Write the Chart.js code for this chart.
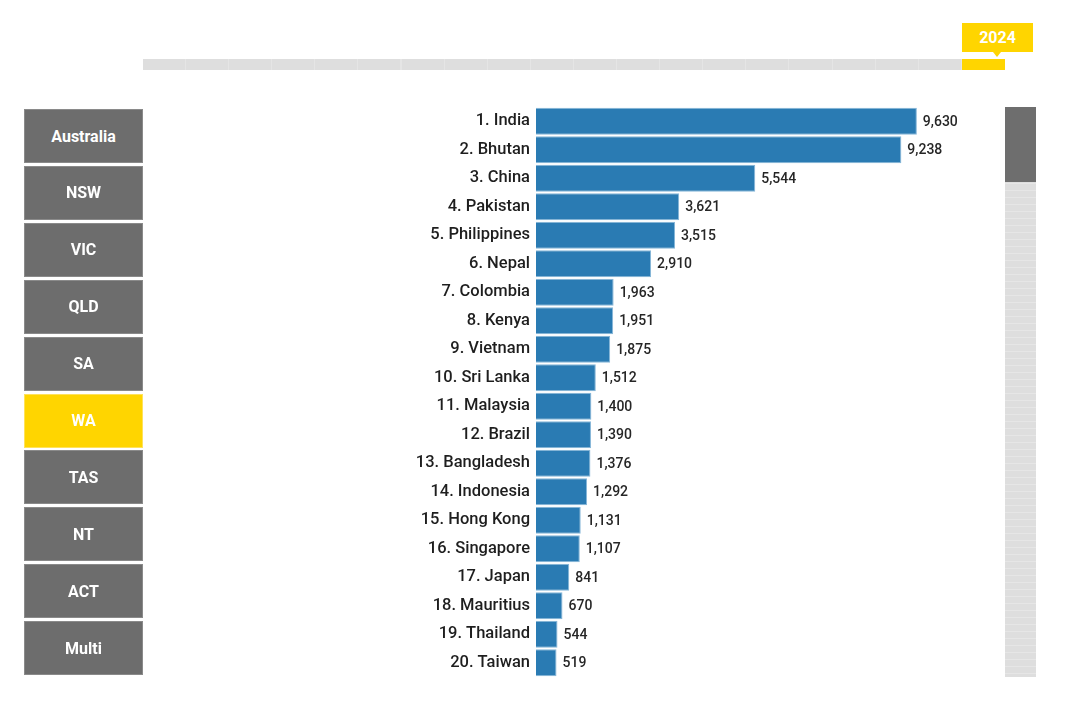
<!DOCTYPE html>
<html>
<head>
<meta charset="utf-8">
<script src="https://cdn.jsdelivr.net/npm/chart.js@4/dist/chart.umd.min.js"></script>
<style>
  html, body { margin: 0; padding: 0; background: #fff; width: 1080px; height: 724px; overflow: hidden; font-family: Roboto, "Noto Sans", sans-serif; }
  #wrap { position: relative; width: 1080px; height: 724px; }
  #chart { position: absolute; left: 0; top: 0; }
  .btn { position: absolute; left: 24px; width: 119px; height: 54px; background: #6d6d6d; color: #fff; font-weight: 700; font-size: 16px; display: flex; align-items: center; justify-content: center; box-sizing: border-box; border: 1px solid #8a8a8a; }
  .btn.active { background: #ffd500; border-color: #ffe25a; }
  #track { position: absolute; left: 143px; top: 59px; width: 862px; height: 11px; background: repeating-linear-gradient(to right, #dedede 0px, #dedede 42px, #e5e5e5 42px, #e5e5e5 43.1px); }
  #sel { position: absolute; left: 962px; top: 59px; width: 43px; height: 11px; background: #ffd500; }
  #yearBox { position: absolute; left: 962px; top: 23px; width: 71px; height: 29px; background: #ffd500; color: #fff; font-weight: 700; font-size: 16px; display: flex; align-items: center; justify-content: center; }
  #yearBox:after { content: ""; position: absolute; left: 31px; top: 29px; border-left: 4px solid transparent; border-right: 4px solid transparent; border-top: 5px solid #ffd500; }
  #scroll { position: absolute; left: 1005px; top: 107px; width: 31px; height: 570px; background: repeating-linear-gradient(to bottom, #dedede 0px, #dedede 6px, #e6e6e6 6px, #e6e6e6 7px); }
  #thumb { position: absolute; left: 1005px; top: 107px; width: 31px; height: 75px; background: #6e6e6e; }
</style>
</head>
<body>
<div id="wrap">
  <canvas id="chart" width="1080" height="724"></canvas>
  <div id="track"></div>
  <div id="sel"></div>
  <div id="yearBox"></div>
  <div id="scroll"></div>
  <div id="thumb"></div>
  <div id="buttons"></div>
</div>
<script>
const year = "2024";
const regions = ["Australia", "NSW", "VIC", "QLD", "SA", "WA", "TAS", "NT", "ACT", "Multi"];
const activeRegion = "WA";
const countries = ["India", "Bhutan", "China", "Pakistan", "Philippines", "Nepal", "Colombia", "Kenya", "Vietnam", "Sri Lanka", "Malaysia", "Brazil", "Bangladesh", "Indonesia", "Hong Kong", "Singapore", "Japan", "Mauritius", "Thailand", "Taiwan"];
const values = [9630, 9238, 5544, 3621, 3515, 2910, 1963, 1951, 1875, 1512, 1400, 1390, 1376, 1292, 1131, 1107, 841, 670, 544, 519];

document.getElementById('yearBox').textContent = year;
const bc = document.getElementById('buttons');
regions.forEach((r, i) => {
  const d = document.createElement('div');
  d.className = 'btn' + (r === activeRegion ? ' active' : '');
  d.style.top = (109 + i * 56.9) + 'px';
  d.textContent = r;
  bc.appendChild(d);
});

const labels = countries.map((c, i) => (i + 1) + '. ' + c);

const valueLabels = {
  id: 'valueLabels',
  afterDatasetsDraw(chart) {
    const ctx = chart.ctx;
    const meta = chart.getDatasetMeta(0);
    ctx.save();
    ctx.font = '500 14px Roboto, "Noto Sans", sans-serif';
    ctx.fillStyle = '#262626';
    ctx.textAlign = 'left';
    ctx.textBaseline = 'middle';
    meta.data.forEach((bar, i) => {
      ctx.fillText(values[i].toLocaleString('en-US'), bar.x + 6, bar.y + 1);
    });
    ctx.restore();
  }
};

new Chart(document.getElementById('chart'), {
  type: 'bar',
  data: {
    labels: labels,
    datasets: [{
      data: values,
      backgroundColor: '#2a7bb3',
      borderColor: '#86b6d8',
      borderWidth: 1,
      barPercentage: 1,
      categoryPercentage: 0.94
    }]
  },
  options: {
    indexAxis: 'y',
    responsive: false,
    animation: false,
    layout: { padding: { left: 0, top: 107, bottom: 47, right: 148.5 } },
    plugins: { legend: { display: false }, tooltip: { enabled: false } },
    scales: {
      x: { display: false, min: 0, max: 10000 },
      y: {
        grid: { display: false, drawTicks: false },
        border: { display: false },
        ticks: {
          padding: 6,
          color: '#1e1e1e',
          font: { family: 'Roboto, "Noto Sans", sans-serif', size: 16.5, weight: '500' }
        },
        afterFit(scale) { scale.width = 536; }
      }
    }
  },
  plugins: [valueLabels]
});
</script>
</body>
</html>
